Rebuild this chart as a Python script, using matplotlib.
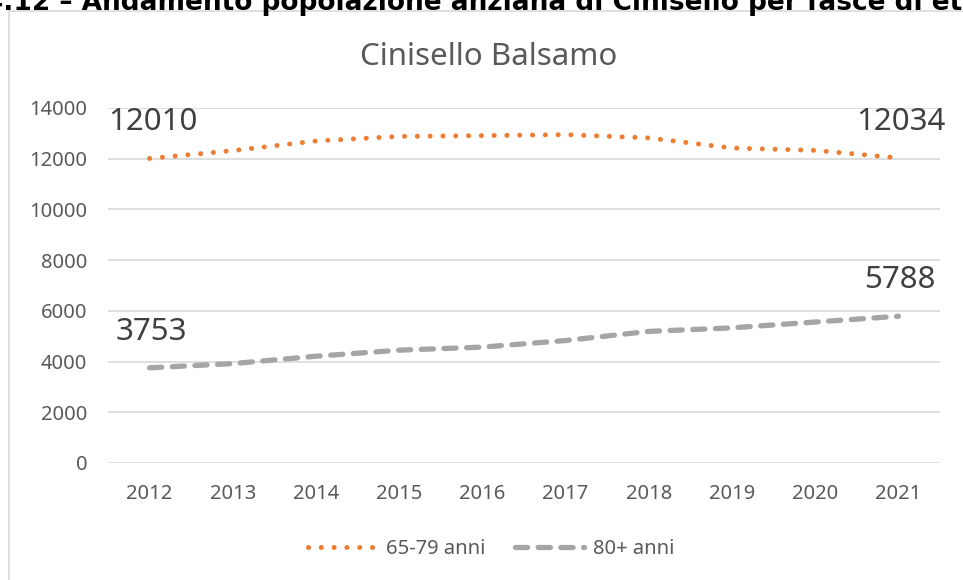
import matplotlib.pyplot as plt
from matplotlib.patches import Rectangle

# data
years = ["2012", "2013", "2014", "2015", "2016", "2017", "2018", "2019", "2020", "2021"]
anni_65_79 = [12010, 12320, 12700, 12880, 12910, 12950, 12820, 12420, 12330, 12034]
anni_80 = [3753, 3920, 4210, 4450, 4570, 4830, 5190, 5330, 5560, 5788]
labels_65_79 = {0: "12010", 9: "12034"}
labels_80 = {0: "3753", 9: "5788"}

ORANGE = "#ED7D31"
GREY = "#A5A5A5"
TXT = "#595959"
FONT = "Noto Sans"


def draw():
	fig = plt.figure(figsize=(9.63, 5.8), dpi=100)
	fig.patch.set_facecolor("white")

	# chart border (cut off at right and bottom)
	fig.patches.append(Rectangle((9 / 963, -0.05), 1.1, 1 - 11 / 580 + 0.05,
		transform=fig.transFigure, fill=False, edgecolor="#D9D9D9", lw=1.2))

	# heading above the chart, cropped at the top like the reference
	fig.text(-0.016, 1 - 10 / 580, "4.12 \u2013 Andamento popolazione anziana di Cinisello per fasce di et\u00e0",
		fontsize=19, fontweight="bold", family="DejaVu Sans", color="black",
		ha="left", va="baseline")

	ax = fig.add_axes([108 / 963, 117 / 580, 832 / 963, 355 / 580])
	x = list(range(len(years)))

	ax.plot(x, anni_65_79, color=ORANGE, lw=3.6, linestyle=(0, (0.01, 2.55)),
		dash_capstyle="round", label="65-79 anni")
	ax.plot(x, anni_80, color=GREY, lw=3.8, linestyle=(0, (2.3, 2.0)),
		dash_capstyle="round", label="80+ anni")

	for i, t in labels_65_79.items():
		ax.annotate(t, (x[i], anni_65_79[i]), xytext=(2, 26), textcoords="offset points",
			ha="center", va="center", fontsize=22.5, family=FONT, color="#404040")
	for i, t in labels_80.items():
		ax.annotate(t, (x[i], anni_80[i]), xytext=(1, 26), textcoords="offset points",
			ha="center", va="center", fontsize=22.5, family=FONT, color="#404040")

	ax.set_xlim(-0.5, len(years) - 0.5)
	ax.set_ylim(0, 14000)
	ax.set_yticks(range(0, 14001, 2000))
	ax.set_xticks(x)
	ax.set_xticklabels(years)
	ax.grid(axis="y", color="#D9D9D9", lw=1.2)
	ax.set_axisbelow(True)
	for s in ax.spines.values():
		s.set_visible(False)
	ax.tick_params(length=0, labelsize=14.5, labelcolor=TXT)
	ax.tick_params(axis="x", pad=15)
	ax.tick_params(axis="y", pad=15)
	for lab in ax.get_xticklabels() + ax.get_yticklabels():
		lab.set_family(FONT)

	fig.text(489 / 963, 1 - 57 / 580, "Cinisello Balsamo", ha="center", va="center",
		fontsize=22.5, family=FONT, color=TXT)

	leg = fig.legend(loc="center", bbox_to_anchor=(491 / 963, 1 - 549 / 580), ncol=2,
		frameon=False, prop={"family": FONT, "size": 14.5}, handlelength=3.4,
		columnspacing=1.5, handletextpad=0.47)
	for t in leg.get_texts():
		t.set_color(TXT)

	fig.savefig("out.png", dpi=100)


def main():
	draw()


if __name__ == '__main__':
	main()
